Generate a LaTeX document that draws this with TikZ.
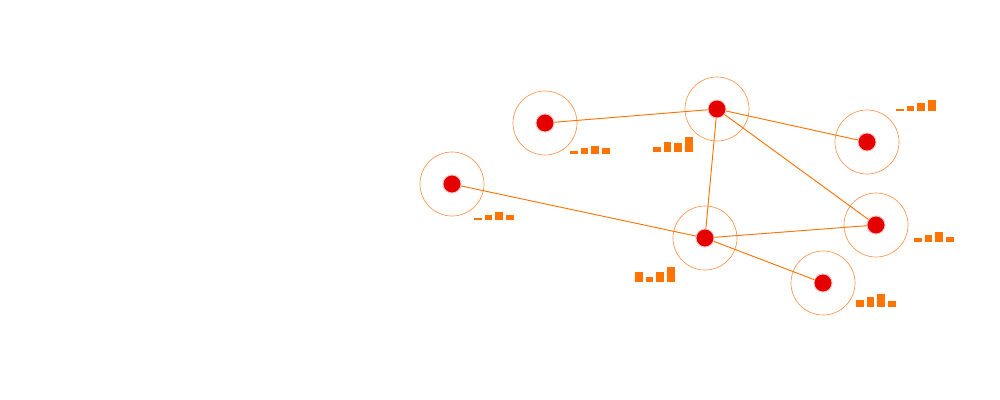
\documentclass[tikz,border=0pt]{standalone}
\begin{document}
\begin{tikzpicture}[x=0.75pt,y=-0.75pt,
 ring/.style={circle,draw=orange!80!red!70,line width=0.5pt,minimum size=64*0.75pt,inner sep=0},
 dot/.style={circle,fill=red!90!black,draw=red!20,line width=0.6pt,minimum size=18*0.75pt,inner sep=0},
 link/.style={draw=orange!90!red,line width=0.7pt},
 bar/.style={fill=orange!90!red,draw=none}]
\useasboundingbox (0,0) rectangle (1000,400);
\newcommand{\bars}[6]{% x0, base, h1..h4
 \foreach \h [count=\i from 0] in {#3,#4,#5,#6} \fill[bar] (#1+\i*10.7,#2) rectangle ++(7.5,-\h);}
\foreach \n/\x/\y in {a/545/123,b/717/109,c/867/142,d/452/184,e/876/225,f/705/238,g/823/283}{
 \node[ring] (r\n) at (\x,\y) {};
}
\draw[link] (545,123) coordinate (pa) -- (717,109) coordinate (pb);
\node[dot] (a) at (545,123) {};
\node[dot] (b) at (717,109) {};
\node[dot] (c) at (867,142) {};
\node[dot] (d) at (452,184) {};
\node[dot] (e) at (876,225) {};
\node[dot] (f) at (705,238) {};
\node[dot] (g) at (823,283) {};
\begin{scope}[on background layer/.style={}]
\end{scope}
\foreach \u/\v in {b/c,b/e,b/f,d/f,f/e,f/g}{\draw[link] (\u.center) -- (\v.center);}
\foreach \n in {a,b,c,d,e,f,g}{\node[dot] at (\n) {};}
\bars{570}{154}{3}{6}{8}{6}
\bars{653}{152}{5}{10}{9}{15}
\bars{896}{111}{2}{5}{8}{11}
\bars{474}{220}{2}{5}{8}{5}
\bars{914}{242}{4}{7}{10}{5}
\bars{635}{282}{10}{5}{10}{15}
\bars{856}{307}{7}{10}{13}{6}
\end{tikzpicture}
\end{document}
